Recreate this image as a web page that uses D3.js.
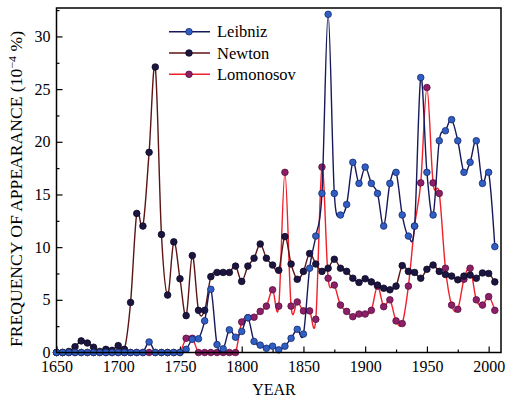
<!DOCTYPE html>
<html>
<head>
<meta charset="utf-8">
<script src="https://cdn.jsdelivr.net/npm/d3@7"></script>
<style>
  body { margin: 0; background: #fff; }
  svg { display: block; }
  svg text { font-family: "Liberation Serif", "DejaVu Serif", serif; fill: #000; }
</style>
</head>
<body>
<svg width="520" height="397"></svg>
<script>
const years = [1650, 1655, 1660, 1665, 1670, 1675, 1680, 1685, 1690, 1695,
  1700, 1705, 1710, 1715, 1720, 1725, 1730, 1735, 1740, 1745,
  1750, 1755, 1760, 1765, 1770, 1775, 1780, 1785, 1790, 1795,
  1800, 1805, 1810, 1815, 1820, 1825, 1830, 1835, 1840, 1845,
  1850, 1855, 1860, 1865, 1870, 1875, 1880, 1885, 1890, 1895,
  1900, 1905, 1910, 1915, 1920, 1925, 1930, 1935, 1940, 1945,
  1950, 1955, 1960, 1965, 1970, 1975, 1980, 1985, 1990, 1995,
  2000, 2005];

const leibniz = [0, 0, 0, 0, 0, 0, 0, 0, 0, 0,
  0, 0, 0, 0, 0, 1.0, 0, 0, 0, 0,
  0, 0.3, 1.25, 1.3, 3.0, 6.0, 0.75, 0.35, 2.15, 1.45,
  2.0, 3.3, 1.05, 0.7, 0.4, 0.6, 0.25, 0.6, 1.35, 2.2,
  1.75, 8.0, 11.05, 15.1, 32.1, 15.1, 13.05, 14.05, 18.05, 16.05,
  17.6, 16.05, 15.1, 12.0, 16.05, 17.1, 13.05, 11.05, 12.0, 26.1,
  17.1, 13.05, 20.1, 21.05, 22.1, 20.1, 17.1, 18.05, 20.1, 16.05,
  17.1, 10.05];

const newton = [0, 0, 0.1, 0.55, 1.1, 0.9, 0.5, 0.1, 0.3, 0.2,
  0.65, 0.3, 4.75, 13.2, 12.0, 19.0, 27.1, 11.2, 5.45, 10.5,
  7.0, 3.5, 9.2, 4.0, 4.0, 7.2, 7.6, 7.6, 7.6, 8.2,
  6.75, 8.2, 8.95, 10.3, 8.95, 8.3, 7.8, 11.0, 8.4, 6.95,
  7.7, 9.4, 8.4, 7.7, 8.0, 8.85, 8.0, 7.7, 7.05, 6.65,
  7.0, 6.7, 6.4, 6.1, 5.95, 6.3, 8.25, 7.7, 7.6, 7.05,
  7.9, 8.3, 7.7, 7.4, 7.25, 6.9, 7.25, 7.35, 7.05, 7.55,
  7.5, 6.7];

const lomonosov = [0, 0, 0, 0, 0, 0, 0, 0, 0, 0,
  0, 0, 0, 0, 0, 0, 0, 0, 0, 0,
  0, 1.35, 1.35, 0, 0, 0, 0, 0, 0, 0,
  2.9, 3.3, 3.35, 3.9, 4.4, 5.95, 4.4, 17.1, 4.4, 4.8,
  3.95, 3.95, 3.15, 17.6, 7.05, 6.4, 4.5, 3.9, 3.4, 3.65,
  3.65, 4.0, 6.3, 4.35, 5.0, 3.0, 2.75, 6.3, 12.0, 16.1,
  25.15, 16.1, 15.1, 8.0, 4.5, 4.1, 6.95, 8.0, 5.0, 4.5,
  5.3, 4.0];

const xMajor = [1650, 1700, 1750, 1800, 1850, 1900, 1950, 2000];
const xMinor = [1675, 1725, 1775, 1825, 1875, 1925, 1975];
const yMajor = [0, 5, 10, 15, 20, 25, 30];
const yMinor = [2.5, 7.5, 12.5, 17.5, 22.5, 27.5, 32.5];

const seriesNames = ["Leibniz", "Newton", "Lomonosov"];

const svg = d3.select("svg");
const plotL = 56.5, plotR = 501, plotT = 8, plotB = 352.5;

const x = d3.scaleLinear().domain([1650, 2010]).range([plotL, plotR]);
const y = d3.scaleLinear().domain([0, 32.7]).range([plotB, plotT]);

const styles = {
  Leibniz:   { line: "#16195a", fill: "#2f5fc2", stroke: "#1b2a6e" },
  Newton:    { line: "#5c1414", fill: "#1c1542", stroke: "#0c0a22" },
  Lomonosov: { line: "#f0202a", fill: "#8c1f68", stroke: "#5a103f" }
};

const table = {
  Leibniz: years.map((yr, i) => ({ year: yr, v: leibniz[i] })),
  Newton: years.map((yr, i) => ({ year: yr, v: newton[i] })),
  Lomonosov: years.map((yr, i) => ({ year: yr, v: lomonosov[i] }))
};

// axes, ticks pointing inward
svg.append("g").attr("transform", `translate(0,${plotB})`)
  .call(d3.axisBottom(x).tickValues(xMajor).tickSize(-6).tickPadding(8).tickFormat(d3.format("d")));
svg.append("g").attr("transform", `translate(0,${plotB})`)
  .call(d3.axisBottom(x).tickValues(xMinor).tickSize(-3).tickFormat(""));

svg.append("g").attr("transform", `translate(${plotL},0)`)
  .call(d3.axisLeft(y).tickValues(yMajor).tickSize(-6).tickPadding(6));
svg.append("g").attr("transform", `translate(${plotL},0)`)
  .call(d3.axisLeft(y).tickValues(yMinor).tickSize(-3).tickFormat(""));

svg.selectAll(".domain").remove();
svg.selectAll(".tick line").attr("stroke", "#000").attr("stroke-width", 1.2);
svg.selectAll(".tick text")
  .style("font-family", "'Liberation Serif', serif")
  .style("font-size", "16px");

// series, drawn so that Leibniz sits on top
const line = d3.line()
  .x(d => x(d.year))
  .y(d => y(d.v))
  .curve(d3.curveCardinal);

["Lomonosov", "Newton", "Leibniz"].forEach(name => {
  const st = styles[name];
  const g = svg.append("g");
  g.append("path")
    .attr("d", line(table[name]))
    .attr("fill", "none")
    .attr("stroke", st.line)
    .attr("stroke-width", 1.4);
  g.selectAll("circle")
    .data(table[name])
    .join("circle")
    .attr("cx", d => x(d.year))
    .attr("cy", d => y(d.v))
    .attr("r", 3.3)
    .attr("fill", st.fill)
    .attr("stroke", st.stroke)
    .attr("stroke-width", 0.8);
});

// frame
svg.append("rect")
  .attr("x", plotL).attr("y", plotT)
  .attr("width", plotR - plotL).attr("height", plotB - plotT)
  .attr("fill", "none").attr("stroke", "#000").attr("stroke-width", 1.5);

// legend
const legend = svg.append("g");
seriesNames.forEach((name, i) => {
  const st = styles[name];
  const ly = 31.7 + i * 21.3;
  legend.append("line")
    .attr("x1", 169).attr("x2", 210).attr("y1", ly).attr("y2", ly)
    .attr("stroke", st.line).attr("stroke-width", 1.4);
  legend.append("circle")
    .attr("cx", 189).attr("cy", ly).attr("r", 3.3)
    .attr("fill", st.fill).attr("stroke", st.stroke).attr("stroke-width", 0.8);
  legend.append("text")
    .attr("x", 217).attr("y", ly + 5.5)
    .style("font-size", "16.5px")
    .text(name);
});

// axis titles
svg.append("text")
  .attr("x", 274).attr("y", 395)
  .attr("text-anchor", "middle")
  .style("font-size", "16px")
  .text("YEAR");

const yt = svg.append("text")
  .attr("transform", "translate(22,189) rotate(-90)")
  .attr("text-anchor", "middle")
  .attr("textLength", 316)
  .attr("lengthAdjust", "spacingAndGlyphs")
  .style("font-size", "16px");
yt.append("tspan").text("FREQUENCY OF APPEARANCE (10");
yt.append("tspan").attr("dy", -6).style("font-size", "11px").text("\u22124");
yt.append("tspan").attr("dy", 6).text(" %)");
</script>
</body>
</html>
